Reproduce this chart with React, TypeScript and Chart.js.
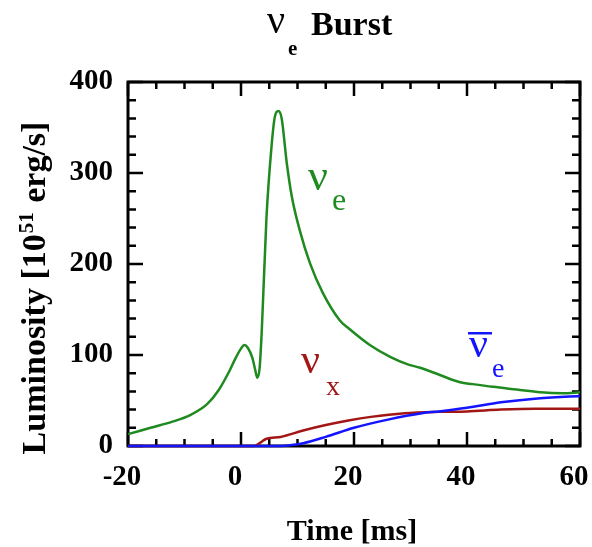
import React, { useEffect, useRef } from "react";
import { Chart, registerables } from "chart.js";

Chart.register(...registerables);

// nu_e (green)
const nueTime = [-20, -16, -12, -9, -6, -4, -2, -1, 0, 0.6, 1.2, 2, 2.5, 2.9, 3.3, 3.7, 4.5, 5.4, 6, 6.6, 7.2, 8.1, 9, 10.4, 12.2, 14.5, 17.5, 19.3, 22.8, 26.4, 29.4, 31.7, 35.2, 38.8, 41, 44.6, 48.8, 53, 57, 60];
const nueLum = [13, 20, 27, 34, 46, 61, 83, 96, 107, 111, 108, 97, 84, 75, 86, 130, 250, 329, 362, 368, 360, 311, 274, 237, 201, 168, 138, 128, 111, 98, 90, 86, 78, 70, 68, 65, 62, 59, 58, 59];

// nu_x (dark red)
const nuxTime = [-20, 2.3, 3.5, 4.5, 7, 11, 15, 19, 23, 29, 35, 40, 46, 52, 60];
const nuxLum = [0, 0, 4, 8, 10, 17, 23, 28, 32, 36, 37.5, 38, 40, 41, 41];

// anti nu_e (blue)
const anueTime = [-20, 7, 9, 11, 15, 20, 26, 32, 35, 40, 46, 52, 60];
const anueLum = [0, 0, 1, 3, 10, 20, 29, 36, 38, 42, 48, 52, 55];

const xTickValues = [-20, 0, 20, 40, 60];
const yTickValues = [0, 100, 200, 300, 400];

const GREEN = "#1f8a1f";
const RED = "#a31616";
const BLUE = "#1414ff";
const SERIF = "'Liberation Serif', 'Times New Roman', serif";

function pts(t: number[], v: number[]) {
  return t.map((x, i) => ({ x, y: v[i] }));
}

const framePlugin = {
  id: "frameTicks",
  beforeDatasetsDraw(chart: any) {
    const { ctx, chartArea } = chart;
    const xs = chart.scales.x;
    const ys = chart.scales.y;
    const { left, right, top, bottom } = chartArea;
    ctx.save();
    ctx.strokeStyle = "#000";
    ctx.lineWidth = 2.5;
    ctx.lineCap = "butt";
    for (let v = -20; v <= 60; v += 5) {
      const px = xs.getPixelForValue(v);
      const len = v % 20 === 0 ? 14 : 7;
      ctx.beginPath();
      ctx.moveTo(px, bottom);
      ctx.lineTo(px, bottom - len);
      ctx.moveTo(px, top);
      ctx.lineTo(px, top + len);
      ctx.stroke();
    }
    for (let v = 0; v <= 400; v += 20) {
      const py = ys.getPixelForValue(v);
      const len = v % 100 === 0 ? 15 : 8;
      ctx.beginPath();
      ctx.moveTo(left, py);
      ctx.lineTo(left + len, py);
      ctx.moveTo(right, py);
      ctx.lineTo(right - len, py);
      ctx.stroke();
    }
    ctx.lineWidth = 3;
    ctx.strokeRect(left, top, right - left, bottom - top);
    ctx.restore();
  },
  afterDraw(chart: any) {
    const { ctx } = chart;
    ctx.save();
    ctx.textBaseline = "alphabetic";
    ctx.textAlign = "left";
    // Title
    ctx.fillStyle = "#000";
    ctx.font = `40px ${SERIF}`;
    ctx.fillText("\u03bd", 267, 33);
    ctx.font = `bold 21px ${SERIF}`;
    ctx.fillText("e", 288, 55);
    ctx.font = `bold 34px ${SERIF}`;
    ctx.fillText("Burst", 311, 35);

    // x title
    ctx.textAlign = "center";
    ctx.font = `bold 30px ${SERIF}`;
    ctx.fillText("Time [ms]", 352, 540);

    // y title
    ctx.save();
    ctx.textAlign = "left";
    const mainFont = `bold 34px ${SERIF}`;
    const supFont = `bold 21px ${SERIF}`;
    const p1 = "Luminosity [10";
    const p2 = "51";
    const p3 = " erg/s]";
    ctx.font = mainFont;
    const w1 = ctx.measureText(p1).width;
    const w3 = ctx.measureText(p3).width;
    ctx.font = supFont;
    const w2 = ctx.measureText(p2).width + 2;
    const total = w1 + w2 + w3;
    ctx.translate(45, 288 + total / 2);
    ctx.rotate(-Math.PI / 2);
    ctx.font = mainFont;
    ctx.fillText(p1, 0, 0);
    ctx.font = supFont;
    ctx.fillText(p2, w1 + 1, -12);
    ctx.font = mainFont;
    ctx.fillText(p3, w1 + w2, 0);
    ctx.restore();

    // series labels
    ctx.textAlign = "left";
    ctx.fillStyle = GREEN;
    ctx.font = `44px ${SERIF}`;
    ctx.fillText("\u03bd", 308, 190);
    ctx.font = `32px ${SERIF}`;
    ctx.fillText("e", 332, 210);

    ctx.fillStyle = RED;
    ctx.font = `42px ${SERIF}`;
    ctx.fillText("\u03bd", 301, 373);
    ctx.font = `28px ${SERIF}`;
    ctx.fillText("x", 326, 395);

    ctx.fillStyle = BLUE;
    ctx.font = `42px ${SERIF}`;
    ctx.fillText("\u03bd", 469, 357);
    ctx.fillRect(468, 332, 24, 2.5);
    ctx.font = `28px ${SERIF}`;
    ctx.fillText("e", 492, 377);
    ctx.restore();
  },
};

export default function App() {
  const ref = useRef<HTMLCanvasElement | null>(null);
  useEffect(() => {
    if (!ref.current) return;
    const tickFont = { family: SERIF, size: 29, weight: "bold" as const };
    const chart = new Chart(ref.current, {
      type: "line",
      data: {
        datasets: [
          {
            label: "anti-nu_e",
            data: pts(anueTime, anueLum),
            borderColor: BLUE,
            borderWidth: 2.5,
            pointRadius: 0,
            cubicInterpolationMode: "monotone",
            fill: false,
            clip: 4,
          },
          {
            label: "nu_x",
            data: pts(nuxTime, nuxLum),
            borderColor: RED,
            borderWidth: 2.5,
            pointRadius: 0,
            cubicInterpolationMode: "monotone",
            fill: false,
            clip: 4,
          },
          {
            label: "nu_e",
            data: pts(nueTime, nueLum),
            borderColor: GREEN,
            borderWidth: 2.5,
            pointRadius: 0,
            cubicInterpolationMode: "monotone",
            fill: false,
            clip: 4,
          },
        ],
      },
      options: {
        animation: false,
        responsive: false,
        devicePixelRatio: 1,
        layout: { padding: { top: 82, right: 12, left: 0, bottom: 0 } },
        plugins: {
          legend: { display: false },
          title: { display: false },
          tooltip: { enabled: false },
        },
        scales: {
          x: {
            type: "linear",
            min: -20,
            max: 60,
            afterFit: (s: any) => {
              s.height = 101;
              s.paddingLeft = 0;
              s.paddingRight = 0;
            },
            afterBuildTicks: (s: any) => {
              s.ticks = xTickValues.map((v) => ({ value: v }));
            },
            grid: { display: false, drawTicks: false },
            border: { display: false },
            ticks: { color: "#000", font: tickFont, padding: 14, maxRotation: 0, autoSkip: false, labelOffset: -6 },
          },
          y: {
            type: "linear",
            min: 0,
            max: 400,
            afterFit: (s: any) => {
              s.width = 128;
              s.paddingTop = 0;
              s.paddingBottom = 0;
            },
            afterBuildTicks: (s: any) => {
              s.ticks = yTickValues.map((v) => ({ value: v }));
            },
            grid: { display: false, drawTicks: false },
            border: { display: false },
            ticks: { color: "#000", font: tickFont, padding: 15, autoSkip: false },
          },
        },
      },
      plugins: [framePlugin],
    });
    return () => chart.destroy();
  }, []);
  return (
    <div style={{ position: "absolute", left: 0, top: 0, width: 592, height: 547, background: "#fff" }}>
      <canvas ref={ref} width={592} height={547} style={{ display: "block" }} />
    </div>
  );
}
